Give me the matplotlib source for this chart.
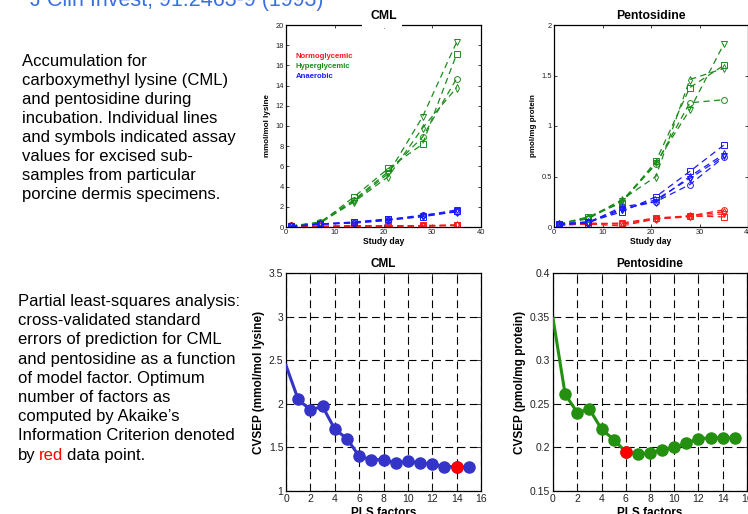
import matplotlib
matplotlib.use('Agg')
import matplotlib.pyplot as plt
from matplotlib.patches import Rectangle

plt.rcParams['font.family'] = ['Liberation Sans', 'DejaVu Sans']

# ---------------- data ----------------
days = [1, 7, 14, 21, 28, 35]
markers = ['o', 's', 'v', 'd']

# CML (mmol/mol lysine), one list per sub-sample (marker order: o, s, v, d)
cml_normo = [[0.15, 0.05, 0.10, 0.10, 0.10, 0.20],
             [0.05, 0.05, 0.15, 0.10, 0.15, 0.20],
             [0.05, 0.05, 0.10, 0.10, 0.10, 0.15],
             [0.05, 0.05, 0.05, 0.10, 0.10, 0.15]]
cml_hyper = [[0.10, 0.50, 2.70, 5.50, 8.90, 14.7],
             [0.10, 0.40, 3.00, 5.80, 8.20, 17.1],
             [0.10, 0.40, 2.60, 5.30, 10.9, 18.3],
             [0.10, 0.40, 2.50, 5.00, 9.80, 13.8]]
cml_anaer = [[0.05, 0.25, 0.40, 0.70, 1.20, 1.50],
             [0.05, 0.30, 0.50, 0.80, 1.00, 1.60],
             [0.05, 0.30, 0.45, 0.75, 1.10, 1.70],
             [0.05, 0.30, 0.40, 0.65, 1.05, 1.50]]

# Pentosidine (pmol/mg protein)
pen_normo = [[0.02, 0.04, 0.03, 0.08, 0.11, 0.17],
             [0.02, 0.03, 0.04, 0.09, 0.11, 0.10],
             [0.02, 0.03, 0.03, 0.08, 0.10, 0.13],
             [0.02, 0.03, 0.01, 0.08, 0.11, 0.15]]
pen_hyper = [[0.03, 0.09, 0.25, 0.62, 1.23, 1.26],
             [0.03, 0.10, 0.24, 0.65, 1.38, 1.60],
             [0.03, 0.08, 0.26, 0.63, 1.16, 1.81],
             [0.03, 0.09, 0.27, 0.50, 1.46, 1.57]]
pen_anaer = [[0.03, 0.04, 0.20, 0.25, 0.42, 0.69],
             [0.03, 0.05, 0.15, 0.30, 0.55, 0.81],
             [0.02, 0.04, 0.17, 0.27, 0.48, 0.70],
             [0.03, 0.05, 0.18, 0.25, 0.50, 0.72]]

# PLS cross-validation
pls_factors = list(range(16))
cvsep_cml = [2.44, 2.05, 1.93, 1.97, 1.71, 1.60, 1.40, 1.36, 1.36, 1.32,
             1.34, 1.32, 1.31, 1.28, 1.28, 1.27]
cvsep_pen = [0.348, 0.261, 0.240, 0.244, 0.221, 0.209, 0.195, 0.192, 0.194,
             0.197, 0.200, 0.205, 0.210, 0.211, 0.211, 0.211]
opt_cml = 14
opt_pen = 6

group_names = ['Normoglycemic', 'Hyperglycemic', 'Anaerobic']
group_colors = ['#ff1a1a', '#1a8c1a', '#1a1aff']

para1 = ["Accumulation for",
         "carboxymethyl lysine (CML)",
         "and pentosidine during",
         "incubation. Individual lines",
         "and symbols indicated assay",
         "values for excised sub-",
         "samples from particular",
         "porcine dermis specimens."]
para2 = ["Partial least-squares analysis:",
         "cross-validated standard",
         "errors of prediction for CML",
         "and pentosidine as a function",
         "of model factor. Optimum",
         "number of factors as",
         "computed by Akaike\u2019s",
         "Information Criterion denoted"]
citation = "J Clin Invest, 91:2463-9 (1993)"

# ---------------- figure ----------------
W, H = 748, 514
fig = plt.figure(figsize=(W / 100, H / 100), dpi=100)
FS = 12


def rect(l, t, r, b):
    return [l / W, 1 - b / H, (r - l) / W, (b - t) / H]


def fx(x):
    return x / W


def fy(y):
    return 1 - y / H


# citation (cut off at top)
fig.text(fx(30), fy(6), citation, color='#3a6fe0', fontsize=15.5,
         ha='left', va='baseline')

# paragraphs
for i, line in enumerate(para1):
    fig.text(fx(22), fy(66.5 + i * 18.9), line, fontsize=FS,
             ha='left', va='baseline')
for i, line in enumerate(para2):
    fig.text(fx(18), fy(306 + i * 19.2), line, fontsize=FS,
             ha='left', va='baseline')
t1 = fig.text(fx(18), fy(306 + 8 * 19.2), "by", fontsize=FS,
              ha='left', va='baseline')
t2 = fig.add_artist(plt.Annotation("red", xy=(1, 0), xycoords=t1,
                                   xytext=(2.4, 0), textcoords='offset points',
                                   fontsize=FS, color='#ff0000',
                                   ha='left', va='bottom'))
fig.add_artist(plt.Annotation("data point.", xy=(1, 0), xycoords=t2,
                              xytext=(2.4, 0), textcoords='offset points',
                              fontsize=FS, ha='left', va='bottom'))


def style_top(ax, ylim, yticks, yticklabels, ylabel, title):
    ax.set_xlim(0, 40)
    ax.set_ylim(*ylim)
    ax.set_xticks([0, 10, 20, 30, 40])
    ax.set_yticks(yticks)
    ax.set_yticklabels(yticklabels)
    ax.tick_params(direction='in', top=True, right=True, labelsize=5.4,
                   length=2.5, width=0.6, pad=1.5, colors='#222222')
    for s in ax.spines.values():
        s.set_linewidth(0.9)
    ax.set_xlabel('Study day', fontsize=6.2, fontweight='bold', labelpad=1)
    ax.set_ylabel(ylabel, fontsize=5.8, fontweight='bold', labelpad=3)
    ax.set_title(title, fontsize=8.8, fontweight='bold', pad=4)


def plot_groups(ax, groups):
    for series, col in zip(groups, group_colors):
        for vals, m in zip(series, markers):
            ax.plot(days, vals, linestyle=(0, (5, 3.5)), lw=0.9, color=col,
                    marker=m, markersize=4.2, mfc='none', mec=col, mew=0.7)


ax1 = fig.add_axes(rect(286, 25, 481, 227))
plot_groups(ax1, [cml_normo, cml_hyper, cml_anaer])
style_top(ax1, (0, 20), list(range(0, 21, 2)),
          [str(v) for v in range(0, 21, 2)], 'mmol/mol lysine', 'CML')
for i, (name, col) in enumerate(zip(group_names, group_colors)):
    ax1.text((296 - 286) / 195, (227 - (57 + i * 9.5)) / 202, name,
             transform=ax1.transAxes, color=col, fontsize=5.6,
             fontweight='bold', ha='left', va='center')

ax2 = fig.add_axes(rect(554, 25, 748, 227))
plot_groups(ax2, [pen_normo, pen_hyper, pen_anaer])
style_top(ax2, (0, 2), [0, 0.5, 1, 1.5, 2], ['0', '0.5', '1', '1.5', '2'],
          'pmol/mg protein', 'Pentosidine')

# gap in top spine behind the CML title
fig.add_artist(Rectangle((fx(362), fy(28)), 40 / W, 6 / H,
                         transform=fig.transFigure, facecolor='white',
                         edgecolor='none', zorder=10))


def style_bottom(ax, ylim, yticks, yticklabels, ylabel, title):
    ax.set_xlim(0, 16)
    ax.set_ylim(*ylim)
    ax.set_xticks(range(0, 17, 2))
    ax.set_yticks(yticks)
    ax.set_yticklabels(yticklabels)
    ax.tick_params(direction='in', top=True, right=True, labelsize=7.5,
                   length=3, width=0.6, pad=2, colors='#222222')
    for s in ax.spines.values():
        s.set_linewidth(0.9)
    ax.grid(True, color='black', linestyle=(0, (7, 4)), linewidth=0.8)
    ax.set_axisbelow(True)
    ax.set_xlabel('PLS factors', fontsize=8.5, fontweight='bold', labelpad=2)
    ax.set_ylabel(ylabel, fontsize=8.5, fontweight='bold', labelpad=3)
    ax.set_title(title, fontsize=8.5, fontweight='bold', pad=4)


ax3 = fig.add_axes(rect(286, 273, 481, 491))
ax3.plot(pls_factors, cvsep_cml, color='#3434c8', lw=2.2, marker='o',
         markersize=8, markevery=list(range(1, 16)), zorder=3)
ax3.plot([pls_factors[opt_cml]], [cvsep_cml[opt_cml]], 'o', color='#ff0000',
         markersize=8, zorder=4)
style_bottom(ax3, (1, 3.5), [1, 1.5, 2, 2.5, 3, 3.5],
             ['1', '1.5', '2', '2.5', '3', '3.5'],
             'CVSEP (mmol/mol lysine)', 'CML')

ax4 = fig.add_axes(rect(553, 273, 747, 491))
ax4.plot(pls_factors, cvsep_pen, color='#23900f', lw=2.2, marker='o',
         markersize=8, markevery=list(range(1, 16)), zorder=3)
ax4.plot([pls_factors[opt_pen]], [cvsep_pen[opt_pen]], 'o', color='#ff0000',
         markersize=8, zorder=4)
style_bottom(ax4, (0.15, 0.4), [0.15, 0.2, 0.25, 0.3, 0.35, 0.4],
             ['0.15', '0.2', '0.25', '0.3', '0.35', '0.4'],
             'CVSEP (pmol/mg protein)', 'Pentosidine')

fig.savefig('out.png', dpi=100)
